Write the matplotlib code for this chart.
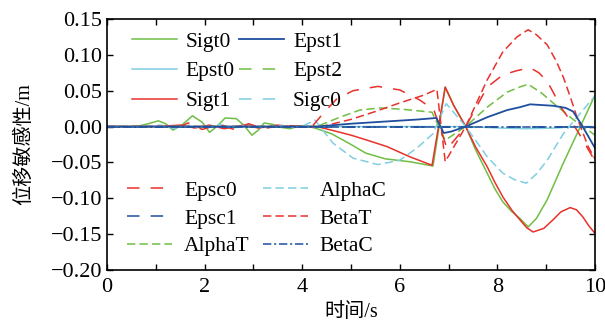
import matplotlib
matplotlib.use('Agg')
import matplotlib.pyplot as plt

plt.rcParams['font.family'] = ['Liberation Serif', 'Noto Sans CJK SC']
plt.rcParams['font.size'] = 16
plt.rcParams['lines.scale_dashes'] = False

GREEN = '#6fbe44'
RED = '#e8312b'
DBLUE = '#1f4e9f'
LBLUE = '#7fcee2'

# sensitivity curves, time in s, value in m
t_sigt0 = [0, 0.6, 0.85, 1.05, 1.2, 1.35, 1.55, 1.75, 1.95, 2.1, 2.25, 2.42, 2.65, 2.8,
           2.97, 3.1, 3.22, 3.4, 3.55, 3.75, 3.95, 4.15, 4.3, 4.6, 5.0, 5.3, 5.7, 6.2,
           6.68, 6.93, 7.1, 7.35, 7.55, 7.79, 7.95, 8.11, 8.3, 8.46, 8.63, 8.8, 9.02,
           9.35, 9.7, 10.0]
sigt0 = [0, 0, 0.004, 0.008, 0.004, -0.005, 0.003, 0.015, 0.006, -0.008, 0.0, 0.012, 0.011, 0.002,
         -0.012, -0.005, 0.005, 0.003, -0.001, -0.003, 0.001, 0.0, -0.003, -0.010, -0.025, -0.037, -0.045, -0.049,
         -0.055, 0.055, 0.030, 0.0, -0.032, -0.065, -0.087, -0.105, -0.119, -0.128, -0.140, -0.128, -0.102,
         -0.051, 0.0, 0.044]

t_sigt1 = [0, 1.0, 1.5, 1.8, 2.1, 2.4, 2.8, 3.1, 3.5, 3.9, 4.3, 4.6, 5.0, 5.33, 5.74, 6.2,
           6.66, 6.93, 7.1, 7.35, 7.55, 7.79, 7.95, 8.11, 8.3, 8.46, 8.6, 8.73, 8.95, 9.14,
           9.3, 9.49, 9.62, 9.75, 9.88, 10.0]
sigt1 = [0, 0, 0.002, -0.002, 0.002, -0.003, 0.002, -0.002, 0.002, -0.001, 0, -0.005, -0.012, -0.019, -0.028, -0.042,
         -0.054, 0.055, 0.030, 0.0, -0.028, -0.056, -0.078, -0.098, -0.117, -0.130, -0.141, -0.147, -0.142, -0.130,
         -0.119, -0.113, -0.116, -0.126, -0.139, -0.149]

t_epst1 = [0, 4.3, 5.0, 5.7, 6.4, 6.75, 6.9, 7.05, 7.35, 7.79, 8.2, 8.46, 8.67, 9.14, 9.4, 9.55,
           9.73, 10.0]
epst1 = [0, 0, 0.004, 0.007, 0.010, 0.012, -0.009, -0.007, 0.0, 0.013, 0.023, 0.027, 0.031, 0.029, 0.026, 0.021,
         0.002, -0.030]

t_epst0 = [0, 7.4, 8.0, 8.6, 9.2, 9.6, 10.0]
epst0 = [0, 0, -0.002, -0.003, -0.002, 0, 0]

t_alphat = [0, 4.3, 4.77, 5.18, 5.6, 6.07, 6.66, 6.93, 7.35, 7.79, 8.2, 8.45, 8.63, 8.9, 9.14,
            9.55, 10.0]
alphat = [0, 0, 0.013, 0.023, 0.026, 0.024, 0.020, -0.019, 0.0, 0.027, 0.048, 0.055, 0.059, 0.047, 0.033,
          0.010, -0.012]

t_epsc0 = [0, 1.5, 1.66, 1.95, 2.3, 2.6, 2.9, 3.2, 3.6, 4.0, 4.2, 4.45, 4.7, 5.04, 5.55, 6.0,
           6.41, 6.7, 6.97, 7.35, 7.79, 8.11, 8.4, 8.67, 8.85, 9.02, 9.15, 9.29, 9.63, 10.0]
epsc0 = [0, 0, 0.005, -0.004, 0.003, -0.004, 0.004, -0.003, 0.002, 0.0, 0.0, 0.020, 0.038, 0.050, 0.056, 0.051,
         0.037, 0.023, -0.031, 0.0, 0.055, 0.072, 0.078, 0.082, 0.075, 0.063, 0.047, 0.028, -0.005, -0.048]

t_betat = [0, 4.4, 5.0, 5.5, 6.0, 6.5, 6.76, 6.93, 7.35, 7.79, 8.11, 8.4, 8.63, 8.8, 9.02, 9.2,
           9.35, 9.5, 9.63, 9.86, 10.0]
betat = [0, 0, 0.010, 0.021, 0.033, 0.044, 0.052, -0.049, 0.0, 0.065, 0.104, 0.125, 0.135, 0.128, 0.114, 0.092,
         0.069, 0.040, 0.013, -0.028, -0.045]

t_alphac = [0, 0.8, 1.1, 1.4, 1.7, 2.0, 2.3, 2.6, 2.9, 3.2, 3.5, 3.8, 4.05, 4.26, 4.63, 5.04, 5.55,
            6.0, 6.35, 6.68, 6.95, 7.35, 7.79, 8.11, 8.35, 8.59, 8.8, 9.02, 9.35, 9.63, 10.0]
alphac = [0, 0, 0.002, -0.003, 0.002, -0.003, 0.003, -0.002, 0.003, -0.002, 0.002, -0.001, 0.002, 0.009, -0.023, -0.044, -0.053,
          -0.047, -0.030, -0.010, 0.032, 0.0, -0.042, -0.065, -0.074, -0.079, -0.066, -0.047, -0.010, 0.013, 0.043]

t_flat = [0, 10.0]
epst2 = [0, 0]
sigc0 = [0, 0]
epsc1 = [0, 0]
betac = [0, 0]

SPARSE = (0, (9, 8))
MEDIUM = (0, (6, 3))

fig = plt.figure(figsize=(6.05, 3.24), dpi=100)
ax = fig.add_axes([0.1769, 0.1667, 0.8066, 0.7747])

lw = 1.1
h = {}
h['Sigt0'], = ax.plot(t_sigt0, sigt0, color=GREEN, lw=lw)
h['Sigt1'], = ax.plot(t_sigt1, sigt1, color=RED, lw=lw)
h['Epst0'], = ax.plot(t_epst0, epst0, color=LBLUE, lw=lw)
h['AlphaC'], = ax.plot(t_alphac, alphac, color=LBLUE, lw=lw, linestyle=MEDIUM)
h['AlphaT'], = ax.plot(t_alphat, alphat, color=GREEN, lw=lw, linestyle=MEDIUM)
h['Epsc0'], = ax.plot(t_epsc0, epsc0, color=RED, lw=lw, linestyle=SPARSE)
h['BetaT'], = ax.plot(t_betat, betat, color=RED, lw=lw, linestyle=MEDIUM)
h['Epst1'], = ax.plot(t_epst1, epst1, color=DBLUE, lw=lw + 0.2)
h['Epst2'], = ax.plot(t_flat, epst2, color=GREEN, lw=lw, linestyle=SPARSE)
h['Sigc0'], = ax.plot(t_flat, sigc0, color=LBLUE, lw=lw, linestyle=SPARSE)
h['Epsc1'], = ax.plot(t_flat, epsc1, color=DBLUE, lw=lw, linestyle=SPARSE)
h['BetaC'], = ax.plot(t_flat, betac, color=DBLUE, lw=lw, linestyle=(0, (6, 2, 1.5, 2)))

ax.set_xlim(0, 10)
ax.set_ylim(-0.20, 0.15)
ax.set_xticks([0, 2, 4, 6, 8, 10])
ax.set_xticks([1, 3, 5, 7, 9], minor=True)
ax.set_yticks([-0.20, -0.15, -0.10, -0.05, 0.00, 0.05, 0.10, 0.15])
ax.set_yticklabels(['\u22120.20', '\u22120.15', '\u22120.10', '\u22120.05', '0.00', '0.05', '0.10', '0.15'])
ax.tick_params(which='both', direction='in', top=True, right=True, length=4.5, width=1.0)
ax.tick_params(axis='x', pad=6)
for s in ax.spines.values():
    s.set_linewidth(1.2)

ax.set_xlabel('时间/s', fontsize=14.5, labelpad=4)
ax.set_ylabel('位移敏感性/m', fontsize=14.5, labelpad=12)

names1 = ['Sigt0', 'Epst0', 'Sigt1', 'Epst1', 'Epst2', 'Sigc0']
leg1 = ax.legend([h[n] for n in names1], names1, ncol=2, frameon=False, fontsize=15.5,
                 loc='upper left', bbox_to_anchor=(0.051, 0.95), borderaxespad=0, borderpad=0,
                 handlelength=2.1, handletextpad=0.4, columnspacing=0.2, labelspacing=0.45)
ax.add_artist(leg1)

names2 = ['Epsc0', 'Epsc1', 'AlphaT', 'AlphaC', 'BetaT', 'BetaC']
ax.legend([h[n] for n in names2], names2, ncol=2, frameon=False, fontsize=15.5,
          loc='lower left', bbox_to_anchor=(0.041, 0.055), borderaxespad=0, borderpad=0,
          handlelength=2.1, handletextpad=0.55, columnspacing=0.6, labelspacing=0.35)

fig.savefig('out.png', dpi=100)
